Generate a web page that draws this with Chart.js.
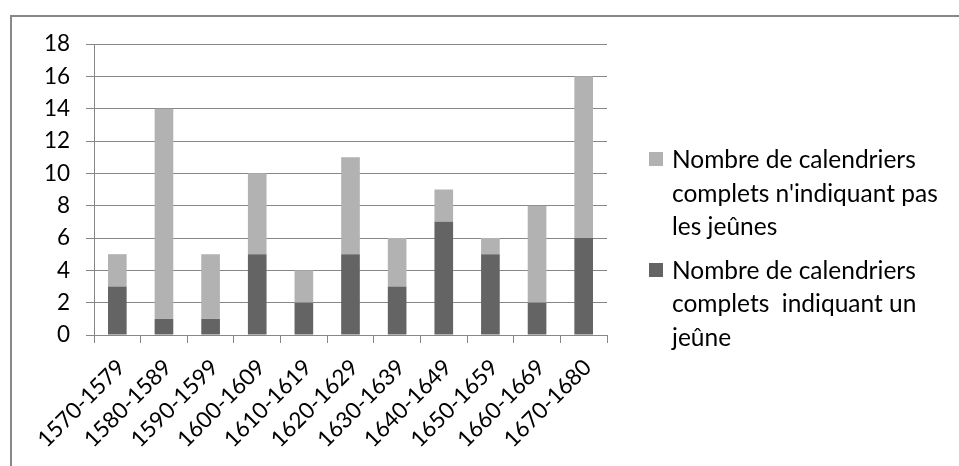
<!DOCTYPE html>
<html>
  <head>
    <title>Calendriers</title>
    <meta charset="utf-8" />
    <style>
      body { margin: 0; background: #fff; }
      #wrap { position: relative; width: 959px; height: 466px; overflow: hidden; }
      #legend { position: absolute; left: 649px; top: 142px; font-family: Lato, sans-serif; font-size: 24.5px; line-height: 33.5px; color: #000; }
      .item { position: relative; padding-left: 23px; white-space: pre; margin-bottom: 10px; }
      .sw { position: absolute; left: 0; top: 10px; width: 14px; height: 14px; }
    </style>
    <script src="https://cdn.jsdelivr.net/npm/chart.js@4.4.0/dist/chart.umd.min.js"></script>
  </head>

  <body>
    <div id="wrap">
      <canvas id="myChart" width="959" height="466"></canvas>
      <div id="legend"></div>
    </div>
    <script>
      const categories = ["1570-1579", "1580-1589", "1590-1599", "1600-1609", "1610-1619",
        "1620-1629", "1630-1639", "1640-1649", "1650-1659", "1660-1669", "1670-1680"];
      const avecJeune = [3, 1, 1, 5, 2, 5, 3, 7, 5, 2, 6];
      const sansJeune = [2, 13, 4, 5, 2, 6, 3, 2, 1, 6, 10];
      const seriesNames = ["Nombre de calendriers\ncomplets n'indiquant pas\nles jeûnes",
        "Nombre de calendriers\ncomplets  indiquant un\njeûne"];
      const yTicks = [0, 2, 4, 6, 8, 10, 12, 14, 16, 18];

      const dark = "#646464";
      const light = "#b2b2b2";
      const gridCol = "#878787";
      const font = { family: "Lato, sans-serif", size: 22.5 };

      // outer frame of the chart object
      const frame = {
        id: "frame",
        beforeDraw(chart) {
          const c = chart.ctx;
          c.save();
          c.strokeStyle = "#888";
          c.lineWidth = 2;
          c.strokeRect(11, 16, 1000, 1000);
          c.restore();
        }
      };

      const ctx = document.getElementById("myChart").getContext("2d");
      new Chart(ctx, {
        type: "bar",
        data: {
          labels: categories,
          datasets: [
            { label: seriesNames[1], data: avecJeune, backgroundColor: dark },
            { label: seriesNames[0], data: sansJeune, backgroundColor: light }
          ]
        },
        options: {
          responsive: false,
          animation: false,
          layout: { padding: { top: 44, right: 352, left: 0, bottom: 0 } },
          datasets: { bar: { barPercentage: 0.4, categoryPercentage: 1 } },
          plugins: { legend: { display: false }, tooltip: { enabled: false } },
          scales: {
            x: {
              stacked: true,
              afterFit(s) { s.height = 131; },
              grid: { display: true, offset: true, drawOnChartArea: false, drawTicks: true, tickLength: 8, color: gridCol },
              border: { color: gridCol, width: 1 },
              ticks: { font: font, color: "#000", minRotation: 45, maxRotation: 45, autoSkip: false, padding: 11, labelOffset: 4 }
            },
            y: {
              stacked: true,
              min: 0,
              max: 18,
              afterFit(s) { s.width = 94; },
              afterBuildTicks(s) { s.ticks = yTicks.map(v => ({ value: v })); },
              grid: { color: gridCol, tickLength: 8 },
              border: { color: gridCol, width: 1 },
              ticks: { font: font, color: "#000", padding: 16 }
            }
          }
        },
        plugins: [frame]
      });

      // legend, light series first like the original
      const leg = document.getElementById("legend");
      [[seriesNames[0], light], [seriesNames[1], dark]].forEach(([name, col]) => {
        const d = document.createElement("div");
        d.className = "item";
        d.textContent = name;
        const sw = document.createElement("span");
        sw.className = "sw";
        sw.style.background = col;
        d.appendChild(sw);
        leg.appendChild(d);
      });
    </script>
  </body>
</html>
